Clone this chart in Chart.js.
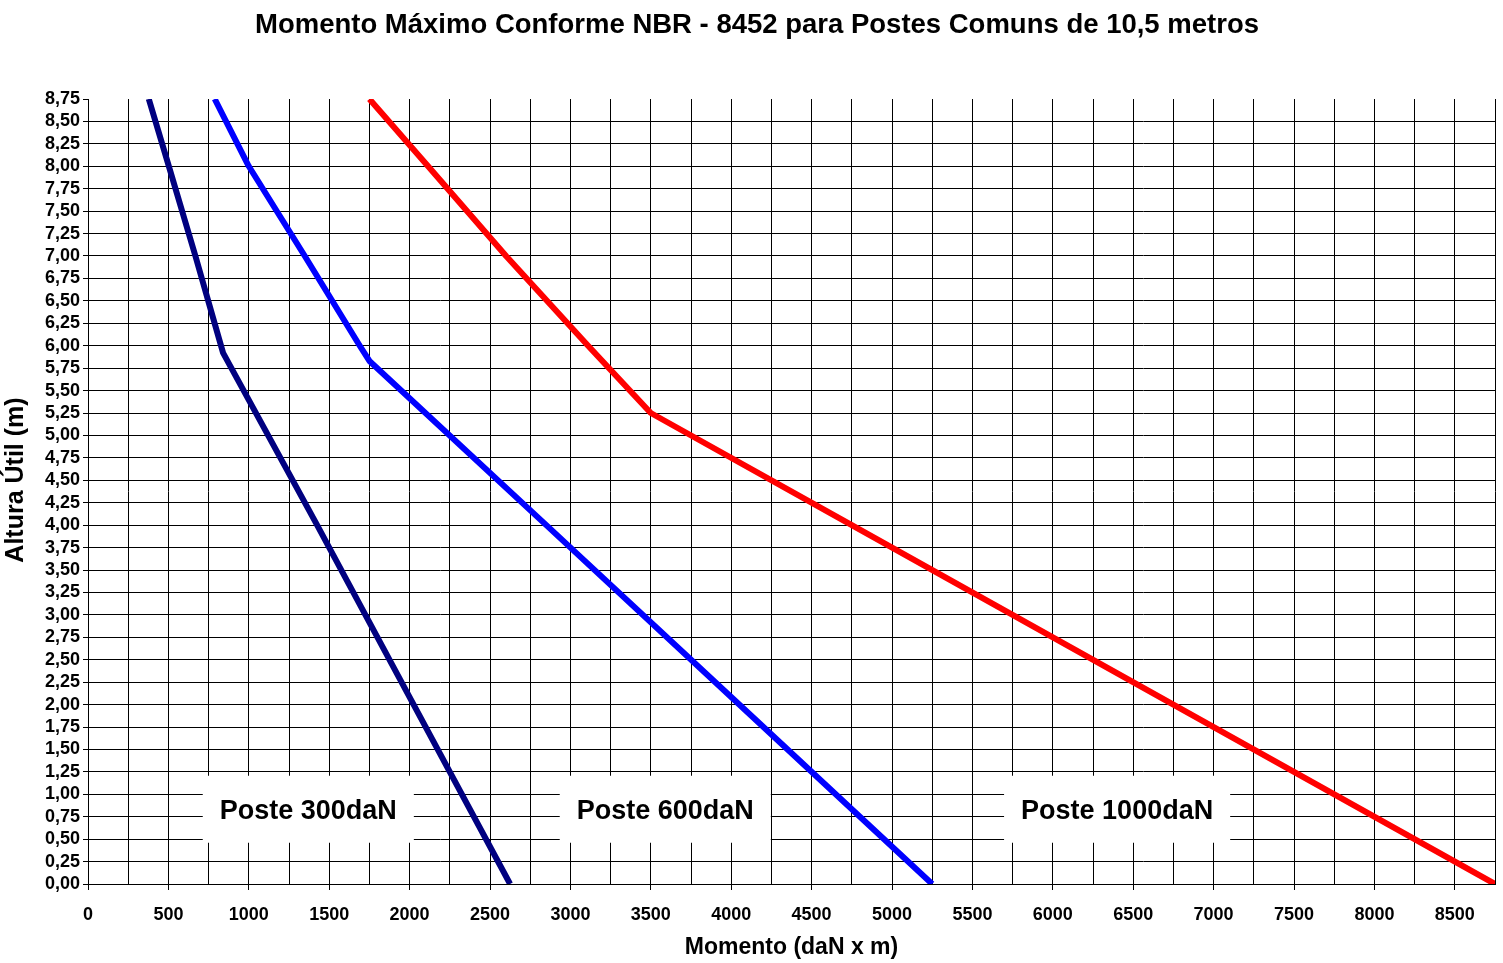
<!DOCTYPE html>
<html>
<head>
<meta charset="utf-8">
<script src="https://cdn.jsdelivr.net/npm/chart.js@4.4.1/dist/chart.umd.min.js"></script>
<style>
  html, body { margin: 0; padding: 0; background: #fff; }
  #wrap { width: 1503px; height: 963px; }
</style>
</head>
<body>
<div id="wrap"><canvas id="grafico" width="1503" height="963"></canvas></div>
<script>
// --- dados ---
const alturas300 = [8.75, 8.0, 7.0, 5.92, 4.0, 2.0, 0.0];
const momentos300 = [378, 503, 668, 840, 1425, 2025, 2625];

const alturas600 = [8.75, 8.0, 7.0, 6.0, 5.83, 4.0, 2.0, 0.0];
const momentos600 = [788, 1000, 1348, 1690, 1750, 2850, 4050, 5250];

const alturas1000 = [8.75, 8.0, 7.0, 6.0, 5.25, 4.0, 2.0, 0.0];
const momentos1000 = [1750, 2115, 2600, 3110, 3500, 4750, 6750, 8750];

const nomesPostes = ['Poste 300daN', 'Poste 600daN', 'Poste 1000daN'];
const coresPostes = ['#000080', '#0000FF', '#FF0000'];

const titulo = 'Momento Máximo Conforme NBR - 8452 para Postes Comuns de 10,5 metros';
const tituloX = 'Momento (daN x m)';
const tituloY = 'Altura Útil (m)';

// rótulos dentro do gráfico (posição em unidades dos eixos)
const rotuloMomento = [1370, 3590, 6400];
const rotuloAltura = [0.85, 0.85, 0.85];

const fonte = '"Liberation Sans", Arial, sans-serif';

function serie(alturas, momentos) {
    return momentos.map((m, i) => ({ x: m, y: alturas[i] }));
}

// Plugin para títulos e caixas de texto
const textosPlugin = {
    id: 'textos',
    beforeDatasetsDraw(chart) {
        const { ctx, scales: { x, y } } = chart;
        ctx.save();
        ctx.font = `bold 27px ${fonte}`;
        ctx.textAlign = 'center';
        ctx.textBaseline = 'middle';
        nomesPostes.forEach((txt, i) => {
            const cx = x.getPixelForValue(rotuloMomento[i]);
            const cy = y.getPixelForValue(rotuloAltura[i]);
            const w = ctx.measureText(txt).width + 34;
            ctx.fillStyle = '#fff';
            ctx.fillRect(cx - w / 2, cy - 32, w, 67);
            ctx.fillStyle = '#000';
            ctx.fillText(txt, cx, cy + 4);
        });
        ctx.restore();
    },
    afterDraw(chart) {
        const { ctx, chartArea } = chart;
        ctx.save();
        ctx.fillStyle = '#000';
        ctx.textAlign = 'center';
        ctx.textBaseline = 'middle';

        ctx.font = `bold 27.5px ${fonte}`;
        ctx.fillText(titulo, 757, 25);

        ctx.font = `bold 23px ${fonte}`;
        ctx.fillText(tituloX, (chartArea.left + chartArea.right) / 2, 948);

        ctx.translate(16, 480);
        ctx.rotate(-Math.PI / 2);
        ctx.font = `bold 25px ${fonte}`;
        ctx.fillText(tituloY, 0, 0);
        ctx.restore();
    }
};

const ctx = document.getElementById('grafico').getContext('2d');

new Chart(ctx, {
    type: 'line',
    data: {
        datasets: [
            { label: nomesPostes[0], data: serie(alturas300, momentos300), borderColor: coresPostes[0] },
            { label: nomesPostes[1], data: serie(alturas600, momentos600), borderColor: coresPostes[1] },
            { label: nomesPostes[2], data: serie(alturas1000, momentos1000), borderColor: coresPostes[2] }
        ]
    },
    options: {
        responsive: false,
        animation: false,
        devicePixelRatio: 1,
        layout: { padding: { top: 99, right: 8, left: 0, bottom: 0 } },
        elements: {
            line: { borderWidth: 6, tension: 0, fill: false, borderJoinStyle: 'round' },
            point: { radius: 0 }
        },
        plugins: {
            legend: { display: false },
            tooltip: { enabled: false },
            title: { display: false }
        },
        scales: {
            x: {
                type: 'linear',
                min: 0,
                max: 8750,
                afterFit: (s) => { s.height = 79; s.paddingRight = 0; s.paddingLeft = 0; },
                ticks: {
                    stepSize: 250,
                    autoSkip: false,
                    maxRotation: 0,
                    padding: 14,
                    color: '#000',
                    font: { family: fonte, size: 18, weight: 'bold' },
                    callback: (v) => (v % 500 === 0 ? String(v) : '')
                },
                grid: {
                    color: '#000',
                    lineWidth: 1,
                    tickLength: 6,
                    tickColor: (c) => (c.tick && c.tick.value % 500 === 0 ? '#000' : 'rgba(0,0,0,0)')
                },
                border: { display: true, color: '#000', width: 1 }
            },
            y: {
                type: 'linear',
                min: 0,
                max: 8.75,
                afterFit: (s) => { s.width = 88; },
                ticks: {
                    stepSize: 0.25,
                    autoSkip: false,
                    padding: 3,
                    color: '#000',
                    font: { family: fonte, size: 18, weight: 'bold' },
                    callback: (v) => v.toFixed(2).replace('.', ',')
                },
                grid: {
                    color: (c) => (c.tick && c.tick.value === 8.75 ? 'rgba(0,0,0,0)' : '#000'),
                    lineWidth: 1,
                    tickLength: 5,
                    tickColor: '#000'
                },
                border: { display: true, color: '#000', width: 1 }
            }
        }
    },
    plugins: [textosPlugin]
});
</script>
</body>
</html>
